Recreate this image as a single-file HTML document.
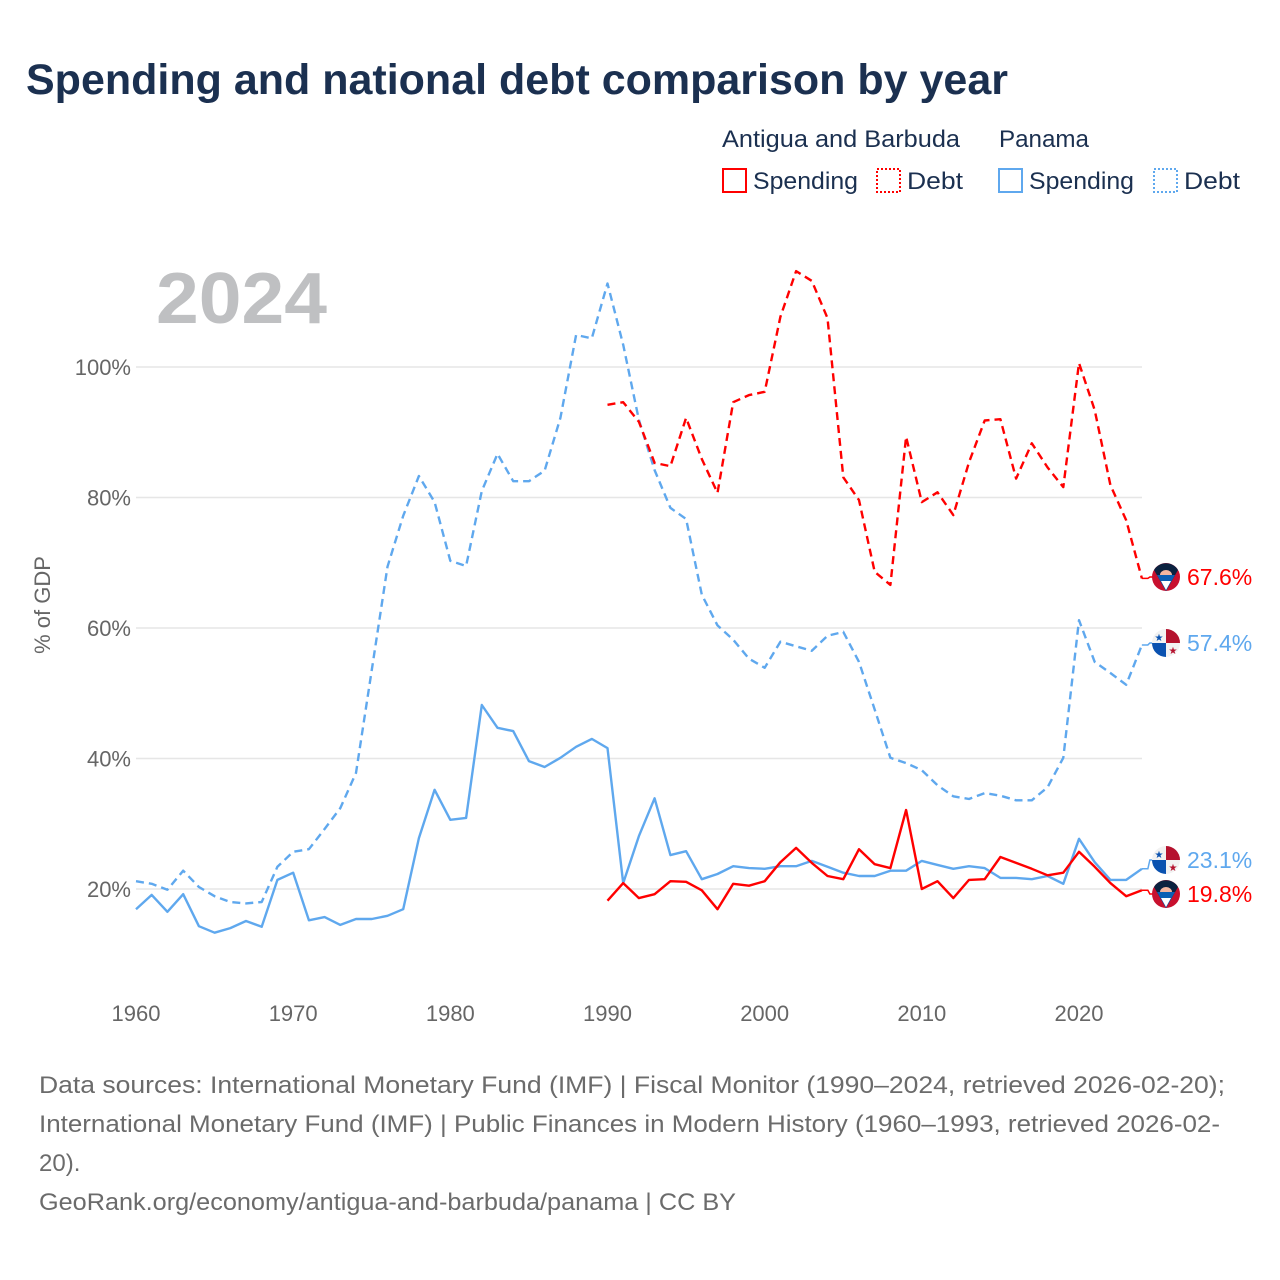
<!DOCTYPE html>
<html><head><meta charset="utf-8">
<style>
body{margin:0;background:#fff;font-family:"Liberation Sans",sans-serif;}
#wrap{position:relative;width:1280px;height:1280px;overflow:hidden;}
</style></head>
<body>
<div id="wrap">
<svg id="chart" width="1280" height="1280" viewBox="0 0 1280 1280">
  <text x="26" y="94" font-size="43" font-weight="bold" fill="#1b3050" textLength="982" lengthAdjust="spacingAndGlyphs">Spending and national debt comparison by year</text>
  <g font-size="24" fill="#1b3050">
    <text x="722" y="147" textLength="238" lengthAdjust="spacingAndGlyphs">Antigua and Barbuda</text>
    <text x="999" y="147" textLength="90" lengthAdjust="spacingAndGlyphs">Panama</text>
    <g><rect x="723" y="169" width="23" height="23" fill="none" stroke="#ff0000" stroke-width="2"/><text x="753" y="189" textLength="105" lengthAdjust="spacingAndGlyphs">Spending</text></g>
    <g><rect x="877" y="169" width="23" height="23" fill="none" stroke="#ff0000" stroke-width="2" stroke-dasharray="2,2"/><text x="907" y="189" textLength="56" lengthAdjust="spacingAndGlyphs">Debt</text></g>
    <g><rect x="999" y="169" width="23" height="23" fill="none" stroke="#5fa8ee" stroke-width="2"/><text x="1029" y="189" textLength="105" lengthAdjust="spacingAndGlyphs">Spending</text></g>
    <g><rect x="1154" y="169" width="23" height="23" fill="none" stroke="#5fa8ee" stroke-width="2" stroke-dasharray="2,2"/><text x="1184" y="189" textLength="56" lengthAdjust="spacingAndGlyphs">Debt</text></g>
  </g>
  <text x="156" y="323" font-size="72" font-weight="bold" fill="#bfc0c2" textLength="171" lengthAdjust="spacingAndGlyphs">2024</text>
  <text transform="translate(50,605) rotate(-90)" text-anchor="middle" font-size="22" fill="#666">% of GDP</text>
  <g id="grid"></g>
  <g id="series"></g>
  <g id="ends"></g>
  <g font-size="24" fill="#6b6b6b">
    <text x="39" y="1093" textLength="1186" lengthAdjust="spacingAndGlyphs">Data sources: International Monetary Fund (IMF) | Fiscal Monitor (1990–2024, retrieved 2026-02-20);</text>
    <text x="39" y="1132" textLength="1181" lengthAdjust="spacingAndGlyphs">International Monetary Fund (IMF) | Public Finances in Modern History (1960–1993, retrieved 2026-02-</text>
    <text x="39" y="1171">20).</text>
    <text x="39" y="1210" textLength="697" lengthAdjust="spacingAndGlyphs">GeoRank.org/economy/antigua-and-barbuda/panama | CC BY</text>
  </g>
</svg>
</div>
<script>
const yTicks=[20,40,60,80,100];
const xTicks=[1960,1970,1980,1990,2000,2010,2020];
const panamaYears0=1960;
const panamaDebt=[21.2,20.8,19.9,22.8,20.3,18.9,18.0,17.8,18.0,23.4,25.7,26.1,29.2,32.4,37.8,53.6,69.4,77.2,83.3,79.3,70.3,69.5,81.0,86.7,82.5,82.5,84.1,92.2,104.9,104.4,112.8,103.4,91.9,84.2,78.4,76.7,65.1,60.4,58.2,55.3,53.9,57.9,57.2,56.5,58.8,59.4,54.8,47.5,40.1,39.3,38.2,35.9,34.2,33.8,34.7,34.3,33.6,33.6,35.6,40.1,61.2,54.8,53.1,51.3,57.4];
const panamaSpending=[16.9,19.1,16.5,19.2,14.3,13.3,14.0,15.1,14.2,21.4,22.5,15.2,15.7,14.5,15.4,15.4,15.9,16.9,27.8,35.2,30.6,30.9,48.2,44.7,44.2,39.6,38.7,40.1,41.8,43.0,41.6,20.9,28.1,33.9,25.2,25.8,21.5,22.3,23.5,23.2,23.1,23.5,23.5,24.3,23.4,22.5,22.0,22.0,22.8,22.8,24.3,23.7,23.1,23.5,23.2,21.7,21.7,21.5,22.0,20.8,27.7,24.1,21.4,21.4,23.1];
const antiguaYears0=1990;
const antiguaDebt=[94.2,94.6,91.6,85.3,84.8,92.2,85.9,80.7,94.6,95.7,96.2,107.7,114.7,113.2,107.5,83.1,79.6,68.6,66.6,89.3,79.3,80.8,77.3,85.4,91.8,92.0,82.9,88.3,84.6,81.6,100.6,93.4,81.9,76.5,67.6];
const antiguaSpending=[18.2,20.9,18.6,19.2,21.2,21.1,19.8,16.9,20.8,20.5,21.2,24.1,26.3,24.0,22.0,21.5,26.1,23.8,23.2,32.1,20.0,21.2,18.6,21.4,21.5,24.9,24.0,23.1,22.1,22.5,25.7,23.4,20.9,18.9,19.8];
const endLabels=["67.6%","57.4%","23.1%","19.8%"];

const NS="http://www.w3.org/2000/svg";
const X=yr=>136+(yr-1960)*(1079-136)/60;
const Y=v=>1019.5-v*6.525;
function mk(t,a,p){const e=document.createElementNS(NS,t);for(const k in a)e.setAttribute(k,a[k]);p.appendChild(e);return e;}
const grid=document.getElementById('grid');
yTicks.forEach(v=>{
  const l=mk('line',{x1:136,x2:1142,y1:Y(v),y2:Y(v),stroke:'#e6e6e6','stroke-width':1.5},grid);
  
  
  const t=mk('text',{x:131,y:Y(v)+8,'text-anchor':'end','font-size':22,fill:'#666'},grid);
  t.textContent=v+'%';
  
  
});
xTicks.forEach(yr=>{
  const t=mk('text',{x:X(yr),y:1021,'text-anchor':'middle','font-size':22,fill:'#666'},grid);
  t.textContent=yr;
  
  
});
const ser=document.getElementById('series');
const ends=document.getElementById('ends');
function series(vals,y0,color,dash,name,labelY,label,flag){
  const pts=vals.map((v,i)=>X(y0+i).toFixed(1)+','+Y(v).toFixed(1));
  const p=mk('polyline',{points:pts.join(' '),fill:'none',stroke:color,'stroke-width':2.4,'stroke-linejoin':'round'},ser);
  if(dash)p.setAttribute('stroke-dasharray','8,5');
  
  
  const lx=X(y0+vals.length-1), ly=Y(vals[vals.length-1]);
  const c=mk('polyline',{points:`${lx},${ly} ${lx+6},${ly} ${lx+8},${labelY} ${lx+12},${labelY}`,fill:'none',stroke:color,'stroke-width':1.5},ends);
  
  
  const g=mk('g',{transform:`translate(1166,${labelY})`},ends);
  
  
  if(flag==='ag'){
    mk('circle',{r:14,fill:'#c8102e'},g);
    mk('path',{d:'M-12,-7 A14,14 0 0 1 12,-7 L0,14 Z',fill:'#0b2240'},g);
    mk('path',{d:'M-9,-2 L9,-2 L0,14 Z',fill:'#0a5fb4'},g);
    mk('path',{d:'M-5,4 L5,4 L0,13 Z',fill:'#fff'},g);
    mk('path',{d:'M-6,-2 A6,5 0 0 1 6,-2 Z',fill:'#f3b6a0'},g);
  } else {
    mk('circle',{r:14,fill:'#f2f2f2'},g);
    mk('path',{d:'M0,0 L0,-14 A14,14 0 0 1 14,0 Z',fill:'#b5122e'},g);
    mk('path',{d:'M0,0 L0,14 A14,14 0 0 1 -14,0 Z',fill:'#0a52b0'},g);
    const s1=mk('text',{x:-7,y:-2,'font-size':10,'text-anchor':'middle',fill:'#0a52b0'},g);s1.textContent='★';
    const s2=mk('text',{x:7,y:11,'font-size':10,'text-anchor':'middle',fill:'#b5122e'},g);s2.textContent='★';
  }
  const t=mk('text',{x:1187,y:labelY+8,'font-size':23,fill:color},ends);
  t.textContent=label;
  
  
}
series(panamaDebt,panamaYears0,'#5fa8ee',true,'panama-debt-line',643,endLabels[1],'pa');
series(panamaSpending,panamaYears0,'#5fa8ee',false,'panama-spending-line',860,endLabels[2],'pa');
series(antiguaDebt,antiguaYears0,'#ff0000',true,'antigua-debt-line',577,endLabels[0],'ag');
series(antiguaSpending,antiguaYears0,'#ff0000',false,'antigua-spending-line',894,endLabels[3],'ag');
</script>
</body></html>
